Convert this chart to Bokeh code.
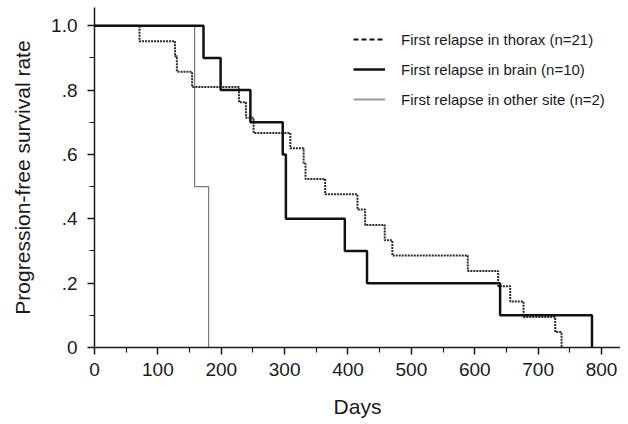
from bokeh.plotting import figure
from bokeh.models import Range1d, FixedTicker, Legend, LegendItem
from bokeh.embed import file_html
from bokeh.resources import INLINE

# Kaplan-Meier step data
thorax_days = [0, 71, 127, 130, 154, 228, 239, 251, 309, 330, 333, 364, 415, 427, 458, 470, 589, 637, 656, 677, 727, 737]
thorax_surv = [1.0, 0.952, 0.905, 0.857, 0.810, 0.762, 0.714, 0.667, 0.619, 0.571, 0.524, 0.476, 0.429, 0.381, 0.333, 0.286, 0.238, 0.190, 0.143, 0.095, 0.048, 0.0]

brain_days = [0, 172, 199, 246, 297, 302, 395, 430, 640, 785]
brain_surv = [1.0, 0.9, 0.8, 0.7, 0.6, 0.4, 0.3, 0.2, 0.1, 0.0]

other_days = [0, 158, 180]
other_surv = [1.0, 0.5, 0.0]

x_ticks = [0, 100, 200, 300, 400, 500, 600, 700, 800]
x_minor = [50, 150, 250, 350, 450, 550, 650, 750]
y_ticks = [0, 0.2, 0.4, 0.6, 0.8, 1.0]
y_minor = [0.1, 0.3, 0.5, 0.7, 0.9]
y_labels = ["0", ".2", ".4", ".6", ".8", "1.0"]

labels = ["First relapse in thorax (n=21)",
          "First relapse in brain (n=10)",
          "First relapse in other site (n=2)"]

FONT = "Liberation Sans"
INK = "#1a1a1a"

p = figure(width=620, height=420, output_backend="svg", toolbar_location=None,
           x_range=Range1d(0, 830), y_range=Range1d(0, 1.0567),
           min_border_left=94, min_border_right=0, min_border_top=7, min_border_bottom=72)
p.outline_line_color = None
p.xgrid.visible = False
p.ygrid.visible = False
p.background_fill_color = "white"

r_other = p.step(other_days, other_surv, mode="after", line_color="#7a7a7a", line_width=1.2)
p.step(thorax_days, thorax_surv, mode="after", line_color="#2a2a2a", line_width=2, line_dash="2 1")
r_brain = p.step(brain_days, brain_surv, mode="after", line_color="#111111", line_width=2.5)

# legend-only proxies drawn on a range that places them outside the frame
p.extra_y_ranges = {"legend_proxy": Range1d(10, 11)}
r1 = p.line(thorax_days, thorax_surv, y_range_name="legend_proxy",
            line_color="#111111", line_width=2, line_dash="5 3")
r2 = p.line(brain_days, brain_surv, y_range_name="legend_proxy",
            line_color="#111111", line_width=2.5)
r3 = p.line(other_days, other_surv, y_range_name="legend_proxy",
            line_color="#999999", line_width=2)
legend = Legend(items=[LegendItem(label=labels[0], renderers=[r1]),
                       LegendItem(label=labels[1], renderers=[r2]),
                       LegendItem(label=labels[2], renderers=[r3])],
                location=(259, 238), glyph_width=32, glyph_height=20, spacing=10,
                label_standoff=16, padding=0, margin=0,
                border_line_color=None, background_fill_alpha=0,
                label_text_font=FONT, label_text_font_size="15px", label_text_color=INK)
p.add_layout(legend, "center")

for ax in (p.xaxis[0], p.yaxis[0]):
    ax.axis_line_color = INK
    ax.axis_line_width = 1.5
    ax.major_tick_line_color = INK
    ax.minor_tick_line_color = INK
    ax.major_tick_line_width = 1.5
    ax.minor_tick_line_width = 1.2
    ax.major_tick_in = 0
    ax.major_tick_out = 7
    ax.minor_tick_in = 0
    ax.minor_tick_out = 5
    ax.major_label_text_font = FONT
    ax.major_label_text_font_size = "19px"
    ax.major_label_text_color = INK
    ax.axis_label_text_font = FONT
    ax.axis_label_text_font_size = "21px"
    ax.axis_label_text_font_style = "normal"
    ax.axis_label_text_color = INK

p.xaxis[0].ticker = FixedTicker(ticks=x_ticks, minor_ticks=x_minor)
p.yaxis[0].ticker = FixedTicker(ticks=y_ticks, minor_ticks=y_minor)
p.yaxis[0].major_label_overrides = {t: l for t, l in zip(y_ticks, y_labels)}
p.xaxis[0].axis_label = "Days"
p.yaxis[0].axis_label = "Progression-free survival rate"
p.xaxis[0].major_label_standoff = 8
p.yaxis[0].major_label_standoff = 10
p.xaxis[0].axis_label_standoff = 16
p.yaxis[0].axis_label_standoff = 14

open("out.html", "w").write(file_html(p, INLINE))
